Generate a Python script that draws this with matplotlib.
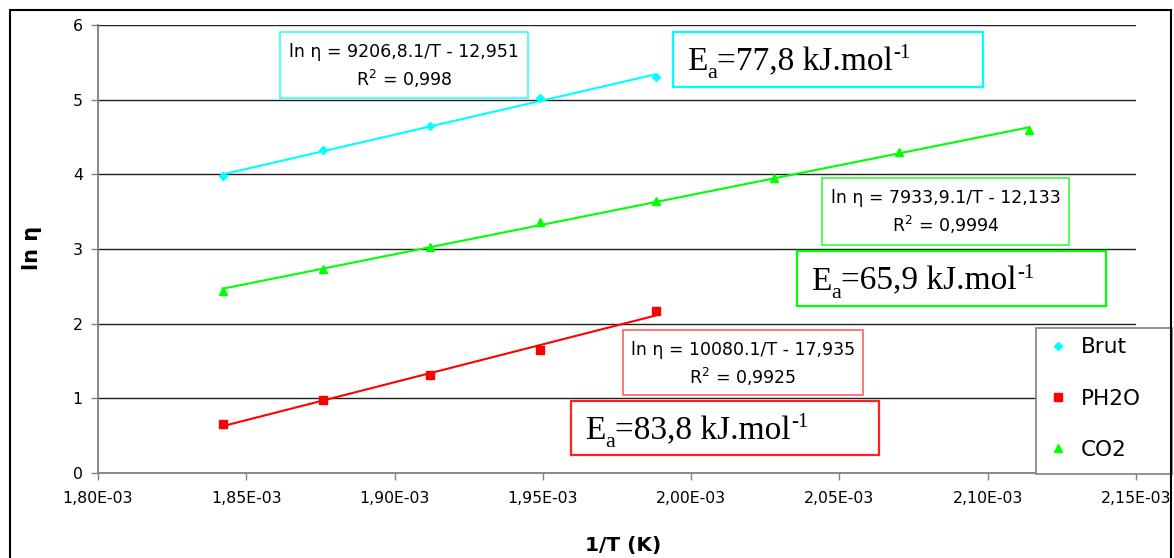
import numpy as np
import matplotlib
matplotlib.use("Agg")
import matplotlib.pyplot as plt
from matplotlib.patches import Rectangle
from matplotlib.ticker import FuncFormatter
from matplotlib.lines import Line2D

# ---- data ----
inv_T = [1.842e-3, 1.876e-3, 1.912e-3, 1.949e-3, 1.988e-3, 2.028e-3, 2.070e-3, 2.114e-3]
brut = [3.98, 4.32, 4.645, 5.016, 5.31]
ph2o = [0.652, 0.981, 1.312, 1.643, 2.17]
co2 = [2.44, 2.735, 3.025, 3.36, 3.637, 3.945, 4.293, 4.60]
series_names = ["Brut", "PH2O", "CO2"]
eq_texts = ["ln η = 9206,8.1/T - 12,951", "ln η = 10080.1/T - 17,935", "ln η = 7933,9.1/T - 12,133"]
r2_texts = ["0,998", "0,9925", "0,9994"]
ea_texts = ["77,8", "83,8", "65,9"]
x_ticks = [1.80e-3, 1.85e-3, 1.90e-3, 1.95e-3, 2.00e-3, 2.05e-3, 2.10e-3, 2.15e-3]
y_ticks = [0, 1, 2, 3, 4, 5, 6]

W, H = 1174, 558
fig = plt.figure(figsize=(W / 100, H / 100), dpi=100)
fig.patch.set_facecolor("white")

def fx(x):
    return x / W

def fy(y):
    return 1 - y / H

ax = fig.add_axes([fx(98), fy(473), fx(1136) - fx(98), fy(25) - fy(473)])

colors = ["#00FFFF", "#FF0000", "#00FF00"]
markers = ["D", "s", "^"]
msizes = [4.0, 5.5, 5.8]
data = [(inv_T[:5], brut), (inv_T[:5], ph2o), (inv_T, co2)]

for (xs, ys), c, m, ms, name in zip(data, colors, markers, msizes, series_names):
    xs = np.array(xs)
    ys = np.array(ys)
    k, b = np.polyfit(xs, ys, 1)
    xl = np.array([xs.min(), xs.max()])
    ax.plot(xl, k * xl + b, color=c, lw=1.5, zorder=3)
    ax.plot(xs, ys, linestyle="none", marker=m, color=c, markersize=ms, zorder=4, label=name)

ax.set_xlim(1.80e-3, 2.15e-3)
ax.set_ylim(0, 6)
ax.set_xticks(x_ticks)
ax.set_yticks(y_ticks)
ax.xaxis.set_major_formatter(FuncFormatter(lambda v, p: f"{v*1e3:.2f}".replace(".", ",") + "E-03"))
ax.grid(axis="y", color="#202020", lw=1.0, zorder=1)
ax.set_axisbelow(True)
for s in ["top", "right"]:
    ax.spines[s].set_visible(False)
for s in ["left", "bottom"]:
    ax.spines[s].set_color("#808080")
    ax.spines[s].set_linewidth(1.3)
ax.tick_params(axis="both", direction="out", length=5, width=1, color="#808080",
               labelsize=11.3, labelcolor="black")
ax.tick_params(axis="x", pad=8)
ax.tick_params(axis="y", pad=6)
for lab in ax.get_xticklabels() + ax.get_yticklabels():
    lab.set_fontfamily("DejaVu Sans")

fig.text(fx(623), fy(545), "1/T (K)", ha="center", va="center", fontsize=14.5,
         fontweight="bold", family="DejaVu Sans")
fig.text(fx(32), fy(248), "ln η", ha="center", va="center", fontsize=15,
         fontweight="bold", family="DejaVu Sans", rotation=90)

# ---- annotation boxes ----
def box(x0, y0, x1, y1, color, lw, z=10):
    r = Rectangle((fx(x0), fy(y1)), fx(x1) - fx(x0), fy(y0) - fy(y1), transform=fig.transFigure,
                  fill=True, facecolor="white", edgecolor=color, lw=lw, zorder=z)
    fig.add_artist(r)

renderer = fig.canvas.get_renderer()

def rich(x, y, parts, family):
    # parts: (text, size_pt, dy_px); x,y in pixel coords from top-left (baseline y)
    cur = x
    for txt, size, dy in parts:
        t = fig.text(fx(cur), fy(y - dy), txt, ha="left", va="baseline", fontsize=size,
                     family=family, zorder=11)
        bb = t.get_window_extent(renderer=renderer)
        cur += bb.width

eq_boxes = [(280, 32, 528, 98), (623, 330, 863, 395), (822, 178, 1069, 245)]
ea_boxes = [(673, 32, 983, 87), (571, 401, 879, 455), (797, 251, 1106, 306)]
eq_colors = ["#33FFFF", "#FF6060", "#33FF33"]
ea_colors = ["#00FFFF", "#FF2020", "#00FF00"]

for i in range(3):
    x0, y0, x1, y1 = eq_boxes[i]
    box(x0, y0, x1, y1, eq_colors[i], 1.2)
    cx = (x0 + x1) / 2
    fig.text(fx(cx), fy(y0 + 20), eq_texts[i], ha="center", va="center", fontsize=12.5,
             family="DejaVu Sans", zorder=11)
    fig.text(fx(cx), fy(y0 + 47), r"R$^\mathregular{2}$ = " + r2_texts[i], ha="center", va="center",
             fontsize=12.5, family="DejaVu Sans", zorder=11)
    x0, y0, x1, y1 = ea_boxes[i]
    box(x0, y0, x1, y1, ea_colors[i], 1.6)
    base = (y0 + y1) / 2 + 11
    rich(x0 + 14, base,
         [("E", 24, 0), ("a", 16, -8), ("=" + ea_texts[i] + " kJ.mol", 24, 0), ("-1", 15, 12)],
         "Liberation Serif")

# ---- legend ----
box(1036, 328, 1172, 474, "#808080", 1.2, z=9)
handles = [Line2D([], [], linestyle="none", marker=m, color=c, markersize=ms)
           for c, m, ms in zip(colors, markers, msizes)]
leg = fig.legend(handles, series_names, loc="upper left", bbox_to_anchor=(fx(1041), fy(331)),
                 frameon=False, prop={"family": "DejaVu Sans", "size": 15.5}, labelspacing=1.45,
                 handlelength=1.0, handletextpad=0.55, borderpad=0.3, borderaxespad=0)
leg.set_zorder(12)

# ---- outer frame ----
frame = Rectangle((fx(10), -0.1), fx(1171) - fx(10), fy(10) + 0.1, transform=fig.transFigure,
                  fill=False, edgecolor="black", lw=1.5, zorder=20)
fig.add_artist(frame)

fig.savefig("out.png", dpi=100)
